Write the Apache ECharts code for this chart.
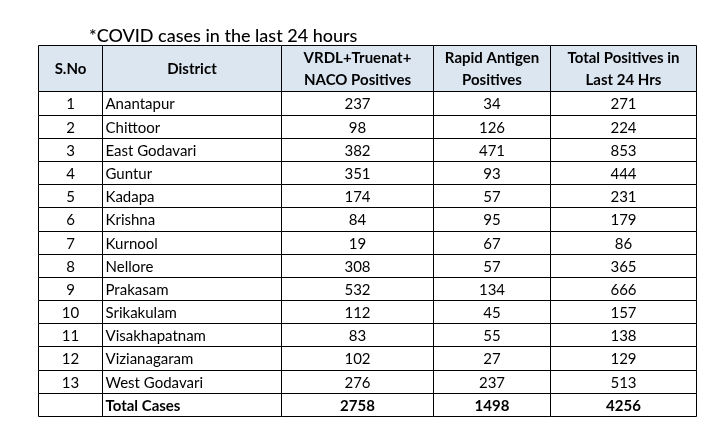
<!DOCTYPE html>
<html>
<head>
<meta charset="utf-8">
<script src="https://cdn.jsdelivr.net/npm/echarts@6/dist/echarts.min.js"></script>
<style>
  html, body { margin: 0; padding: 0; background: #fff; }
  #main { width: 722px; height: 434px; }
</style>
</head>
<body>
<div id="main"></div>
<script>
  // table data
  var headers = ['S.No', 'District', 'VRDL+Truenat+\nNACO Positives', 'Rapid Antigen\nPositives', 'Total Positives in\nLast 24 Hrs'];
  var districts = ['Anantapur', 'Chittoor', 'East Godavari', 'Guntur', 'Kadapa', 'Krishna', 'Kurnool',
    'Nellore', 'Prakasam', 'Srikakulam', 'Visakhapatnam', 'Vizianagaram', 'West Godavari'];
  var vrdl = [237, 98, 382, 351, 174, 84, 19, 308, 532, 112, 83, 102, 276];
  var rapid = [34, 126, 471, 93, 57, 95, 67, 57, 134, 45, 55, 27, 237];
  var totalPos = [271, 224, 853, 444, 231, 179, 86, 365, 666, 157, 138, 129, 513];
  var totalRow = ['', 'Total Cases', 2758, 1498, 4256];

  // layout (column widths in px, header spans 2 row units)
  var colWidths = [64, 179, 152, 117, 146];
  var colEdges = [0];
  colWidths.forEach(function (w) { colEdges.push(colEdges[colEdges.length - 1] + w); });
  var tableW = colEdges[colEdges.length - 1];
  var nRows = districts.length + 1;

  var cells = [];
  headers.forEach(function (h, c) { cells.push({ value: [c, 0], text: h, kind: 'head' }); });
  districts.forEach(function (d, i) {
    var row = [i + 1, d, vrdl[i], rapid[i], totalPos[i]];
    row.forEach(function (v, c) { cells.push({ value: [c, i + 1], text: String(v), kind: 'body' }); });
  });
  totalRow.forEach(function (v, c) { cells.push({ value: [c, nRows], text: String(v), kind: 'total' }); });

  var chart = echarts.init(document.getElementById('main'));
  chart.setOption({
    animation: false,
    title: {
      text: '*COVID cases in the last 24 hours',
      left: 84, top: 22,
      textStyle: { fontFamily: 'Lato', fontSize: 18, fontWeight: 500, color: '#000' }
    },
    grid: { left: 38, top: 45, width: tableW, height: 371 },
    xAxis: { type: 'value', min: 0, max: tableW, show: false },
    yAxis: { type: 'value', min: 0, max: nRows + 2, inverse: true, show: false },
    series: [{
      type: 'custom',
      data: cells,
      renderItem: function (params, api) {
        var c = api.value(0), r = api.value(1);
        var item = cells[params.dataIndex];
        var y0 = r === 0 ? 0 : r + 1, y1 = r === 0 ? 2 : r + 2;
        var p0 = api.coord([colEdges[c], y0]);
        var p1 = api.coord([colEdges[c + 1], y1]);
        var x = Math.round(p0[0]) + 0.5, y = Math.round(p0[1]) + 0.5;
        var w = Math.round(p1[0]) - Math.round(p0[0]);
        var h = Math.round(p1[1]) - Math.round(p0[1]);
        var leftAlign = c === 1 && item.kind !== 'head';
        var bold = item.kind !== 'body';
        return {
          type: 'group',
          children: [{
            type: 'rect',
            shape: { x: x, y: y, width: w, height: h },
            style: { fill: item.kind === 'head' ? '#dce6f1' : '#fff', stroke: '#000', lineWidth: 1 }
          }, {
            type: 'text',
            style: {
              text: item.text,
              x: leftAlign ? x + 3 : x + w / 2,
              y: y + h / 2 + 1,
              align: leftAlign ? 'left' : 'center',
              verticalAlign: 'middle',
              fontFamily: 'Lato',
              fontSize: 15,
              fontWeight: bold ? 'bold' : 'normal',
              lineHeight: 22,
              fill: '#000'
            }
          }]
        };
      }
    }]
  });
</script>
</body>
</html>
